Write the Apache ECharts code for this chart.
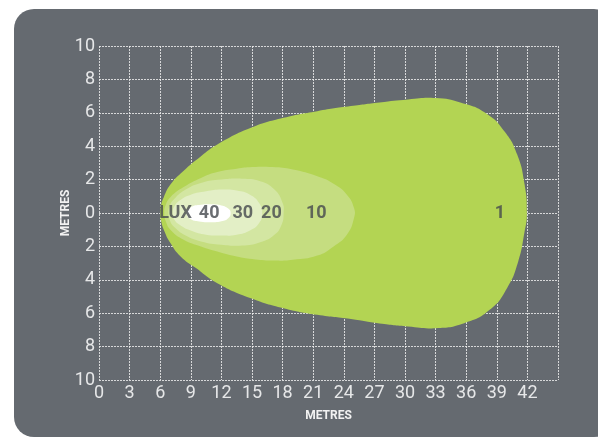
<!DOCTYPE html>
<html>
<head>
<meta charset="utf-8">
<script src="https://cdn.jsdelivr.net/npm/echarts@6/dist/echarts.min.js"></script>
<style>
  html, body { margin: 0; padding: 0; background: #fff; }
  #panel { position: absolute; left: 14px; top: 9px; width: 600px; height: 428px; background: #656a70; border-radius: 20px; }
  #chart { position: absolute; left: 0; top: 0; width: 598px; height: 437px; }
</style>
</head>
<body>
<div id="panel"></div>
<div id="chart"></div>
<script>
  // iso-lux contours, [metres forward, metres sideways]
  var lux1 = [[6.0, 0], [6.1, 0.5], [6.35, 0.95], [7, 1.7], [8.25, 2.5], [10, 3.4], [11.6, 4.1], [14.9, 5.1], [18.1, 5.7],
    [21.4, 6.1], [24.7, 6.4], [27.5, 6.62], [30.3, 6.8], [33, 6.88], [35.5, 6.6], [38, 5.95], [39.8, 4.85],
    [41, 3.5], [41.7, 1.8], [41.95, 0], [41.7, -1.2], [41.1, -2.9], [40, -4.5], [38.3, -5.8], [35.8, -6.6],
    [33, -6.9], [30.3, -6.8], [27.5, -6.62], [24.7, -6.35], [21.4, -6.1], [18.1, -5.7], [14.9, -5.1], [11.6, -4.2],
    [9.5, -3.3], [8, -2.6], [7, -1.8], [6.35, -1.0], [6.1, -0.5]];
  var lux10 = [[6.4, 0], [6.55, 0.5], [7, 0.95], [8.3, 1.55], [10, 2.1], [11.6, 2.45], [13.5, 2.65], [15, 2.75], [17, 2.75],
    [19, 2.6], [21.4, 2.2], [23, 1.75], [24.3, 1.1], [25, 0.3], [25, -0.3], [24.3, -1.3], [23, -2.0],
    [21.4, -2.55], [19, -2.8], [17, -2.85], [15, -2.75], [13.5, -2.6], [11.6, -2.3], [10, -2.0], [8.3, -1.6],
    [7, -1.0], [6.55, -0.5]];
  var lux20 = [[6.8, 0], [6.95, 0.45], [7.4, 0.85], [8.5, 1.4], [10, 1.8], [12, 2.0], [14, 2.05], [15.8, 1.9], [17.2, 1.4],
    [18, 0.6], [18.1, 0], [17.9, -0.7], [17.2, -1.3], [15.8, -1.75], [14, -1.95], [12, -1.9], [10, -1.7],
    [8.5, -1.35], [7.4, -0.85], [6.95, -0.45]];
  var lux30 = [[7.2, 0], [7.4, 0.4], [7.9, 0.75], [9, 1.1], [10.5, 1.3], [12, 1.4], [13.5, 1.35], [14.8, 1.1], [15.7, 0.6],
    [16, 0], [15.7, -0.6], [14.8, -1.05], [13.5, -1.3], [12, -1.35], [10.5, -1.3], [9, -1.05], [7.9, -0.7], [7.4, -0.4]];
  var lux40 = [[8.6, 0], [9, 0.35], [10, 0.5], [11, 0.52], [12, 0.45], [12.7, 0.25], [12.9, 0], [12.7, -0.3],
    [12, -0.5], [11, -0.55], [10, -0.52], [9, -0.38]];

  var luxLabels = ['LUX', '40', '30', '20', '10', '1'];
  var luxLabelX = [7.5, 10.8, 14.1, 16.9, 21.3, 39.3];

  var xTicks = [0, 3, 6, 9, 12, 15, 18, 21, 24, 27, 30, 33, 36, 39, 42];
  var yTicks = [10, 8, 6, 4, 2, 0, 2, 4, 6, 8, 10];

  function contour(points, color) {
    return {
      type: 'custom',
      coordinateSystem: 'cartesian2d',
      silent: true,
      data: points,
      renderItem: function (params, api) {
        if (params.dataIndex !== 0) return null;
        return {
          type: 'polygon',
          shape: { points: points.map(function (p) { return api.coord(p); }), smooth: 0.5 },
          style: { fill: color }
        };
      }
    };
  }

  var chart = echarts.init(document.getElementById('chart'));
  var gridLine = { show: true, lineStyle: { color: 'rgba(235,235,235,0.85)', width: 1, type: [2, 1] } };
  chart.setOption({
    animation: false,
    grid: { left: 99, right: 40, top: 46, bottom: 57 },
    xAxis: {
      type: 'value', min: 0, max: 45, interval: 3,
      name: 'METRES', nameLocation: 'middle', nameGap: 30,
      nameTextStyle: { color: '#f2f2f2', fontSize: 12, fontWeight: 'bold', fontFamily: 'Roboto' },
      axisLine: { show: false }, axisTick: { show: false },
      axisLabel: {
        color: '#e6e7e8', fontSize: 18, fontFamily: 'Roboto', margin: 4,
        formatter: function (v) { var i = xTicks.indexOf(v); return i < 0 ? '' : String(xTicks[i]); }
      },
      splitLine: gridLine
    },
    yAxis: {
      type: 'value', min: -10, max: 10, interval: 2,
      name: 'METRES', nameLocation: 'middle', nameGap: 27, nameRotate: 90, nameMoveOverlap: false,
      nameTextStyle: { color: '#f2f2f2', fontSize: 12, fontWeight: 'bold', fontFamily: 'Roboto' },
      axisLine: { show: false }, axisTick: { show: false },
      axisLabel: {
        color: '#e6e7e8', fontSize: 18, fontFamily: 'Roboto', margin: 4, padding: [0, 0, 5, 0],
        formatter: function (v) { return String(yTicks[Math.round((10 - v) / 2)]); }
      },
      splitLine: gridLine
    },
    series: [
      contour(lux1, '#b3d453'),
      contour(lux10, '#c5dd80'),
      contour(lux20, '#d3e6a2'),
      contour(lux30, '#e3efc6'),
      contour(lux40, '#ffffff'),
      {
        type: 'scatter',
        silent: true,
        symbolSize: 0,
        itemStyle: { color: 'transparent' },
        z: 5,
        data: luxLabels.map(function (t, i) { return [luxLabelX[i], 0, t]; }),
        label: {
          show: true, position: 'inside', offset: [0, -2],
          formatter: function (p) { return p.value[2]; },
          color: '#45484d', fontSize: 18, fontWeight: 'bold', fontFamily: 'Roboto'
        },
        labelLayout: { hideOverlap: false }
      }
    ]
  });
</script>
</body>
</html>
